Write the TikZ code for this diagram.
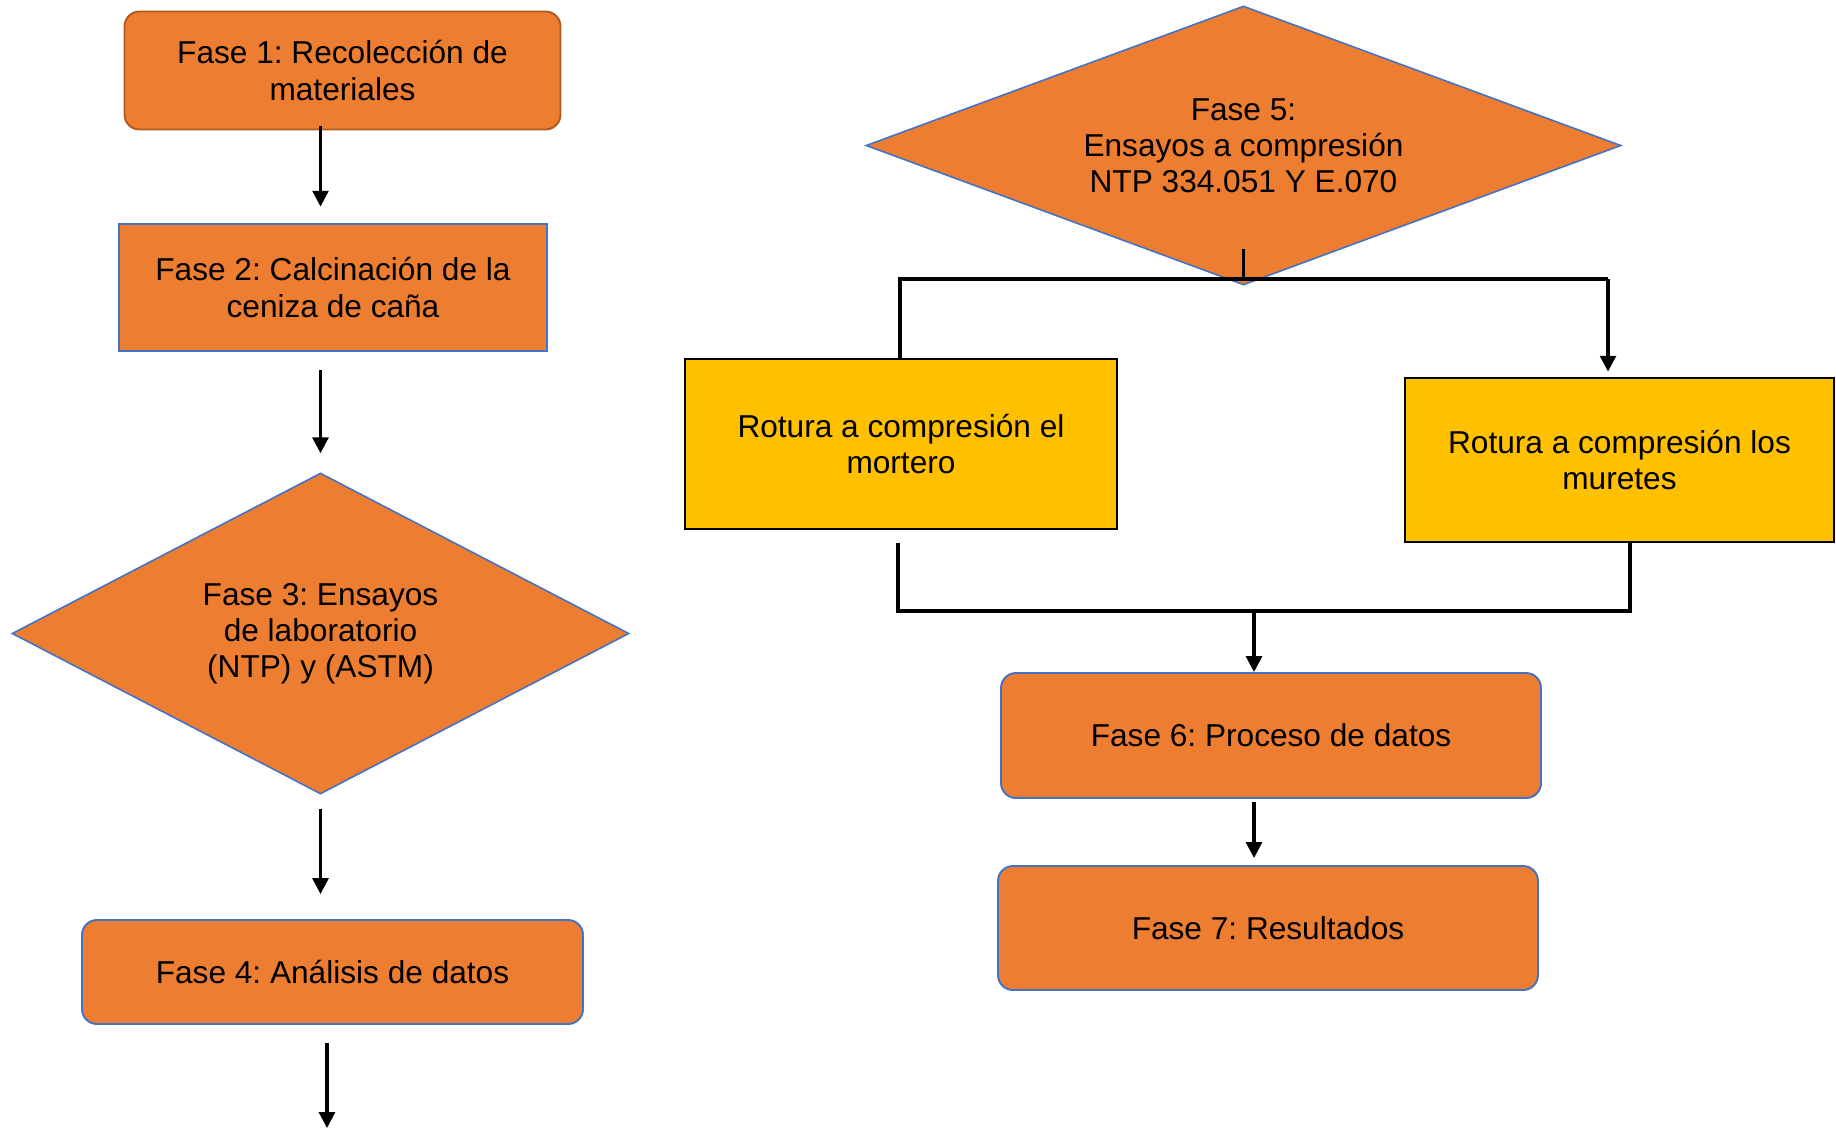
\documentclass[tikz,border=0pt]{standalone}
\usepackage{fontspec}
\setmainfont{Liberation Sans}
\usepackage{tikz}
\usetikzlibrary{arrows.meta,shapes.geometric,calc}
\definecolor{naranja}{HTML}{ED7D31}
\definecolor{borde}{HTML}{AE5A21}
\definecolor{azul}{HTML}{4472C4}
\definecolor{amarillo}{HTML}{FFC000}
\frenchspacing

\begin{document}
\begin{tikzpicture}[
  font=\fontsize{18}{20.5}\selectfont,
  >={Triangle[length=9pt,width=9pt]},
  fase/.style={draw=azul, line width=1.1pt, fill=naranja, rounded corners=0.3cm, align=center, inner sep=0pt},
  rombo/.style={diamond, draw=azul, line width=0.9pt, fill=naranja, align=center, inner sep=0pt},
  rotura/.style={draw=black, line width=1.6pt, fill=amarillo, align=center, inner sep=0pt},
  flecha/.style={->, line width=1.8pt},
  linea/.style={line width=2.2pt}
]
\useasboundingbox (0cm,0cm) rectangle (36.72cm,-22.6cm);
\node[fase, draw=borde, minimum width=8.72cm, minimum height=2.36cm] (f1) at (6.85cm,-1.41cm) {Fase 1: Recolección de\\materiales};
\node[fase, sharp corners, line width=1.6pt, minimum width=8.56cm, minimum height=2.54cm] (f2) at (6.66cm,-5.75cm) {Fase 2: Calcinación de la\\ceniza de caña};
\node[rombo, shape aspect=1.9, minimum width=12.34cm, minimum height=6.42cm] (f3) at (6.41cm,-12.67cm) {Fase 3: Ensayos\\de laboratorio\\(NTP) y (ASTM)};
\node[fase, minimum width=10.02cm, minimum height=2.08cm] (f4) at (6.65cm,-19.44cm) {Fase 4: Análisis de datos};
\node[rombo, shape aspect=2.7, minimum width=15.1cm, minimum height=5.58cm] (f5) at (24.87cm,-2.91cm) {Fase 5:\\Ensayos a compresión\\NTP 334.051 Y E.070};
\node[rotura, minimum width=8.64cm, minimum height=3.4cm] (r1) at (18.02cm,-8.88cm) {Rotura a compresión el\\mortero};
\node[rotura, minimum width=8.58cm, minimum height=3.28cm] (r2) at (32.39cm,-9.2cm) {Rotura a compresión los\\muretes};
\node[fase, minimum width=10.8cm, minimum height=2.5cm] (f6) at (25.42cm,-14.71cm) {Fase 6: Proceso de datos};
\node[fase, minimum width=10.8cm, minimum height=2.48cm] (f7) at (25.36cm,-18.56cm) {Fase 7: Resultados};
\coordinate (sp) at (24.87cm,-5.58cm);
\coordinate (spl) at (18.0cm,-5.58cm);
\coordinate (spr) at (32.16cm,-5.58cm);
\coordinate (jn) at (25.08cm,-12.22cm);
\coordinate (jnl) at (17.96cm,-12.22cm);
\coordinate (jnr) at (32.6cm,-12.22cm);
\coordinate (fin) at (6.54cm,-22.56cm);
\draw[flecha, shorten <=-0.08cm, shorten >=0.32cm] (f1.south -| f3.north) -- (f2.north -| f3.north);
\draw[flecha, shorten <=0.36cm, shorten >=0.38cm] (f2.south -| f3.north) -- (f3.north);
\draw[flecha, shorten <=0.28cm, shorten >=0.5cm] (f3.south) -- (f4.north -| f3.south);
\draw[flecha, shorten <=0.36cm] (f4.south -| fin) -- (fin);
\draw[linea] ($(f5.south)+(0,0.74cm)$) -- (sp);
\draw[linea] (r1.north -| spl) -- (spl) -- (spr);
\draw[flecha, shorten >=0.1cm] (spr) -- (r2.north -| spr);
\draw[linea, shorten <=0.26cm] (r1.south -| jnl) -- (jnl) -- (jnr) -- (r2.south -| jnr);
\draw[flecha] (jn) -- (f6.north -| jn);
\draw[flecha, shorten <=0.06cm, shorten >=0.14cm] (f6.south -| jn) -- (f7.north -| jn);
\end{tikzpicture}
\end{document}
